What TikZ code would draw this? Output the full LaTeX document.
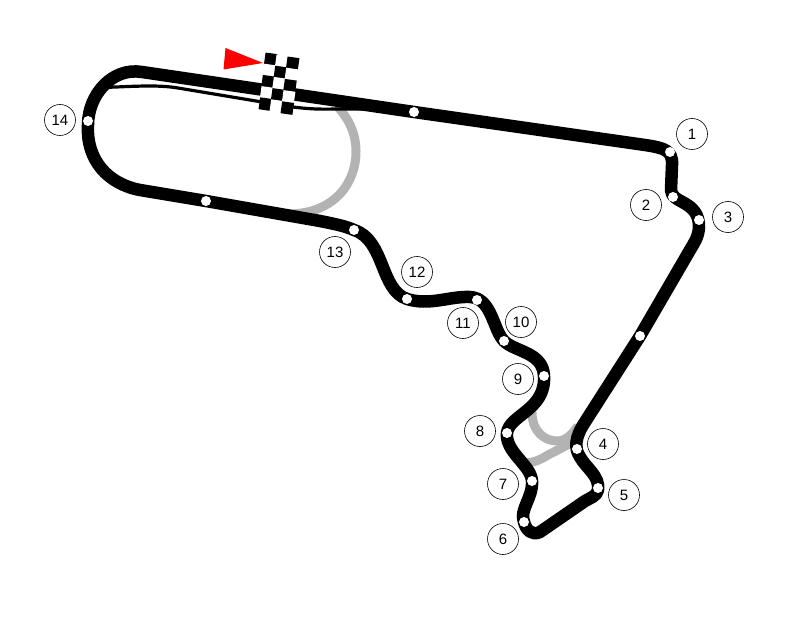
\documentclass[tikz,border=0pt]{standalone}
\usepackage{fontspec}
\setmainfont{Liberation Sans}
\usetikzlibrary{positioning}
\definecolor{runoff}{HTML}{B3B3B3}
\tikzset{
    track/.style={line width=12.5pt, black, line join=round},
    spur/.style={line width=9pt, runoff},
    pitlane/.style={line width=3.2pt, black},
    marker/.style={circle, fill=white, inner sep=0pt, minimum size=10pt},
    turn/.style={draw, circle, inner sep=0pt, minimum size=31pt, line width=0.6pt, font=\fontsize{15}{15}\selectfont},
    chequer/.style={rectangle, inner sep=0pt, minimum size=12pt, rotate=-8}
}
\begin{document}
\begin{tikzpicture}[x=1pt, y=-1pt]
    \useasboundingbox (0,0) rectangle (800,631);

    % Grey unused sections
    \draw[spur] (288,214) .. controls (335,214) and (356,182) .. (356,152) .. controls (356,132) and (348,118) .. (337,106);
    \draw[spur] (532,412) .. controls (532,432) and (545,441) .. (557,441) .. controls (565,441) and (571,436) .. (578,426);
    \draw[spur] (518,463) .. controls (532,464) and (540,460) .. (548,455) -- (575,441);

    % Pit lane
    \draw[pitlane] (96,96) .. controls (102,88) and (108,87) .. (116,87) .. controls (140,86) and (160,85) .. (178,88) -- (262,102) .. controls (285,106) and (305,110) .. (335,109) -- (378,109);

    % Main circuit
    \draw[track] (142,72) -- (414,112) -- (645,145)
        .. controls (664,148) and (673,150) .. (672,165) -- (671,190)
        .. controls (671,204) and (700,200) .. (699,228)
        .. controls (698,238) and (694,243) .. (690,250) -- (640,336) -- (585,422)
        .. controls (575,437) and (574,448) .. (580,457)
        .. controls (586,468) and (600,476) .. (598,490)
        .. controls (597,496) and (590,498) .. (585,501) -- (540,532)
        .. controls (532,536) and (526,530) .. (524,522)
        .. controls (519,510) and (533,498) .. (532,481)
        .. controls (531,465) and (505,452) .. (507,433)
        .. controls (509,415) and (546,410) .. (544,376)
        .. controls (543,352) and (515,352) .. (504,341)
        .. controls (493,330) and (492,298) .. (470,297)
        .. controls (450,296) and (430,306) .. (407,299)
        .. controls (380,290) and (385,240) .. (354,230)
        .. controls (345,226) and (335,224) .. (320,221) -- (206,201) -- (140,190)
        .. controls (108,184) and (86,160) .. (88,125)
        .. controls (88,95) and (112,67) .. (142,72) -- cycle;

    % Start line
    \foreach \i in {0,1,2}
        \foreach \j in {0,1,2,3,4} {
            \pgfmathtruncatemacro{\shade}{mod(\i+\j,2)==0 ? 0 : 100}
            \node[chequer, fill=white!\shade!black] (c\i\j) at ({270.7+11*\i-1.35*\j},{59.3+2*\i+11.2*\j}) {};
        }
    \fill[red] (225.5,48) -- (263,63) -- (223.5,69.5) -- cycle;

    % Turn markers on the circuit
    \foreach \name/\xx/\yy in {m1/670/152, m2/673/197, m3/699/220, m4/577/449, m5/598/488, m6/524/522, m7/532/481,
        m8/507/433, m9/544/376, m10/504/341, m11/477/300, m12/407/299, m13/354/230, m14/88/121,
        top/414/112, back/206/201, side/640/336}
        \node[marker] (\name) at (\xx,\yy) {};

    % Turn numbers
    \foreach \name/\xx/\yy/\txt in {t1/692/134/1, t2/646/205/2, t3/728/217/3, t4/603/444/4, t5/624/495/5, t6/503/539/6,
        t7/503/484/7, t8/480/431/8, t9/518/379/9, t10/521/322/10, t11/463/323/11, t12/417/272/12, t13/335/252/13, t14/60/120/14}
        \node[turn] (\name) at (\xx,\yy) {\txt};
\end{tikzpicture}
\end{document}
